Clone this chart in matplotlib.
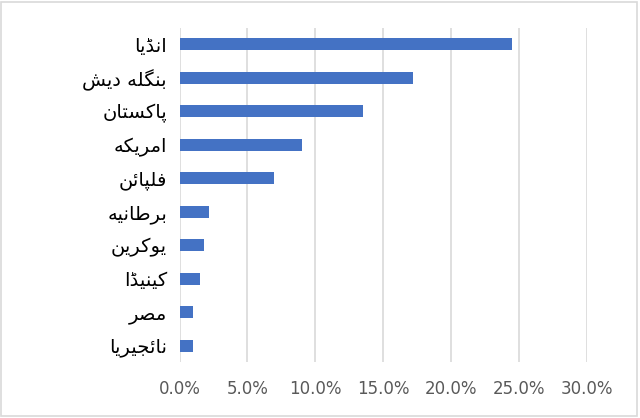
import matplotlib
matplotlib.use('Agg')
import matplotlib.pyplot as plt
from matplotlib.patches import Rectangle

# data
countries = ['انڈیا', 'بنگلہ دیش', 'پاکستان', 'امریکہ', 'فلپائن',
             'برطانیہ', 'یوکرین', 'کینیڈا', 'مصر', 'نائجیریا']
shares = [24.5, 17.2, 13.5, 9.0, 7.0, 2.2, 1.8, 1.5, 1.0, 1.0]
xticks = [0, 5, 10, 15, 20, 25, 30]

# matplotlib does no arabic shaping, so pick the contextual forms by hand
# (isolated, final, initial, medial); two entries = joins on the right only
FORMS = {
    'ا': ('\uFE8D', '\uFE8E'),
    'د': ('\uFEA9', '\uFEAA'),
    'ڈ': ('\uFB88', '\uFB89'),
    'ر': ('\uFEAD', '\uFEAE'),
    'و': ('\uFEED', '\uFEEE'),
    'ن': ('\uFEE5', '\uFEE6', '\uFEE7', '\uFEE8'),
    'ی': ('\uFBFC', '\uFBFD', '\uFBFE', '\uFBFF'),
    'ب': ('\uFE8F', '\uFE90', '\uFE91', '\uFE92'),
    'گ': ('\uFB92', '\uFB93', '\uFB94', '\uFB95'),
    'ل': ('\uFEDD', '\uFEDE', '\uFEDF', '\uFEE0'),
    # DejaVu has no heh-goal forms; the reference draws it like heh anyway
    'ہ': ('\uFEE9', '\uFEEA', '\uFEEB', '\uFEEC'),
    'ش': ('\uFEB5', '\uFEB6', '\uFEB7', '\uFEB8'),
    'پ': ('\uFB56', '\uFB57', '\uFB58', '\uFB59'),
    'ک': ('\uFB8E', '\uFB8F', '\uFB90', '\uFB91'),
    'س': ('\uFEB1', '\uFEB2', '\uFEB3', '\uFEB4'),
    'ت': ('\uFE95', '\uFE96', '\uFE97', '\uFE98'),
    'م': ('\uFEE1', '\uFEE2', '\uFEE3', '\uFEE4'),
    'ف': ('\uFED1', '\uFED2', '\uFED3', '\uFED4'),
    'ئ': ('\uFE89', '\uFE8A', '\uFE8B', '\uFE8C'),
    'ط': ('\uFEC1', '\uFEC2', '\uFEC3', '\uFEC4'),
    'ج': ('\uFE9D', '\uFE9E', '\uFE9F', '\uFEA0'),
    'ص': ('\uFEB9', '\uFEBA', '\uFEBB', '\uFEBC'),
}


def shape(word):
    out = []
    for i, ch in enumerate(word):
        if ch not in FORMS:
            out.append(ch)
            continue
        prev = word[i - 1] if i > 0 else ''
        nxt = word[i + 1] if i + 1 < len(word) else ''
        join_prev = prev in FORMS and len(FORMS[prev]) == 4
        join_next = len(FORMS[ch]) == 4 and nxt in FORMS
        f = FORMS[ch]
        if join_prev and join_next:
            out.append(f[3])
        elif join_prev:
            out.append(f[1])
        elif join_next:
            out.append(f[2])
        else:
            out.append(f[0])
    return ''.join(out)[::-1]


labels = [shape(c) for c in countries]

fig = plt.figure(figsize=(6.4, 4.18), dpi=100)
ax = fig.add_axes([0.2805, 0.133, 0.636, 0.801])

y = list(range(len(countries)))
ax.barh(y, shares, height=0.35, color='#4472C4', zorder=3)
ax.set_ylim(len(countries) - 0.5, -0.5)
ax.set_yticks(y)
ax.set_yticklabels(labels, fontsize=14, family='DejaVu Sans', color='#000000')

ax.set_xlim(0, 30)
ax.set_xticks(xticks)
ax.set_xticklabels(['%.1f%%' % v for v in xticks], fontsize=12, color='#595959')
ax.tick_params(axis='both', length=0)
ax.tick_params(axis='x', pad=13)
ax.tick_params(axis='y', pad=9)
ax.grid(axis='x', color='#D9D9D9', linewidth=1.2, zorder=0)
for s in ax.spines.values():
    s.set_visible(False)

fig.add_artist(Rectangle((0.002, 0.004), 0.994, 0.992, transform=fig.transFigure,
                         fill=False, edgecolor='#D9D9D9', linewidth=1.2))

plt.savefig('out.png', dpi=100)
